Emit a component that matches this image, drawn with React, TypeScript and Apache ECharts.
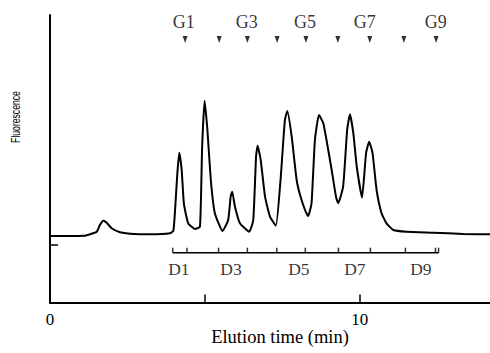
import React, { useEffect, useRef } from "react";
import * as echarts from "echarts";

// Chromatogram trace (elution time in min, fluorescence in arbitrary units)
const timeMin = [
  0, 1.13, 1.29, 1.51, 1.61, 1.72, 1.83, 1.99, 2.26, 2.58, 3.23, 3.87, 3.98, 4.03, 4.11, 4.17, 4.25, 4.32, 4.46,
  4.68, 4.84, 4.91, 4.99, 5.08, 5.19, 5.32, 5.57, 5.75, 5.83, 5.88, 5.97, 6.13, 6.43, 6.56, 6.65, 6.7, 6.8, 6.94,
  7.1, 7.29, 7.44, 7.58, 7.66, 7.8, 7.96, 8.07, 8.23, 8.33, 8.44, 8.55, 8.68, 8.82, 8.98, 9.09, 9.23, 9.3, 9.46,
  9.59, 9.68, 9.79, 9.9, 10.07, 10.2, 10.3, 10.41, 10.54, 10.7, 10.86, 11.08, 11.51, 12.37, 13.34, 14.2,
];
const fluorescence = [
  66.5, 66.8, 68.2, 70.8, 77.5, 81.8, 79.8, 74.2, 70.2, 68.8, 68.2, 69.2, 71.8, 89.5, 129.2, 149.8, 132.5, 99.2, 79.2,
  73.5, 75.8, 155.8, 201.8, 172.5, 122.5, 89.2, 71.5, 82.5, 105.8, 110.8, 95.8, 79.2, 70.8, 82.5, 145.8, 156.8, 142.5, 105.8,
  85.8, 76.8, 122.5, 182.5, 191.5, 165.8, 122.5, 107.5, 92.5, 86.5, 99.2, 162.5, 187.5, 179.2, 152.5, 132.5, 105.8, 99.2, 115.8,
  172.5, 188.2, 169.2, 135.8, 104.8, 149.2, 160.8, 149.2, 112.5, 89.2, 79.2, 72.5, 70.8, 69.8, 68.5, 68.2,
];

// G standards (arrows on top)
const gArrowTimes = [4.36, 5.46, 6.37, 7.33, 8.26, 9.29, 10.32, 11.42, 12.46];
const gLabels = ["G1", "G3", "G5", "G7", "G9"];
const gLabelTimes = [4.32, 6.35, 8.23, 10.16, 12.45];
const gArrowLevel = 263;
const gLabelLevel = 280.5;

// D scale (below the trace)
const dTickTimes = [3.96, 4.42, 5.44, 6.37, 7.32, 8.24, 9.31, 10.34, 11.47, 12.44, 12.54];
const dLabels = ["D1", "D3", "D5", "D7", "D9"];
const dLabelTimes = [4.16, 5.84, 8.03, 9.84, 11.97];
const dLineLevel = 49.8;
const dLabelLevel = 33.5;

// Axis ticks / labels
const xTickValues = [5, 10];
const xLabelValues = [0, 10];
const yTickValues = [57.5];

const SERIF = "'Liberation Serif', 'Times New Roman', serif";

export default function App() {
  const ref = useRef<HTMLDivElement>(null);
  useEffect(() => {
    if (!ref.current) return;
    const chart = echarts.init(ref.current, null, { renderer: "svg" });
    const trace = timeMin.map((t, i) => [t, fluorescence[i]]);
    chart.setOption({
      animation: false,
      backgroundColor: "#fff",
      grid: { left: 50, right: 0, top: 15, bottom: 50.5 },
      xAxis: {
        type: "value",
        min: 0,
        max: 14.2,
        splitLine: { show: false },
        axisLine: { lineStyle: { color: "#000", width: 2 } },
        axisTick: { show: true, inside: true, length: 8, customValues: xTickValues, lineStyle: { color: "#000", width: 1.5 } },
        axisLabel: { customValues: xLabelValues, margin: 8, color: "#000", fontSize: 17, fontFamily: SERIF },
      },
      yAxis: {
        type: "value",
        min: 0,
        max: 287.5,
        splitLine: { show: false },
        axisLine: { show: true, lineStyle: { color: "#000", width: 2 } },
        axisTick: { show: true, inside: true, length: 8, customValues: yTickValues, lineStyle: { color: "#000", width: 1.5 } },
        axisLabel: { show: false },
      },
      graphic: [
        {
          type: "text",
          x: 16,
          y: 117,
          rotation: Math.PI / 2,
          scaleX: 0.72,
          style: { text: "Fluorescence", fontSize: 12, fontFamily: "'Liberation Sans', Arial, sans-serif", fill: "#000", align: "center", verticalAlign: "middle" },
        },
        {
          type: "text",
          x: 280,
          y: 337,
          style: { text: "Elution time (min)", fontSize: 18.5, fontFamily: SERIF, fill: "#000", align: "center", verticalAlign: "middle" },
        },
      ],
      series: [
        {
          type: "line",
          data: trace,
          smooth: 0.15,
          showSymbol: false,
          lineStyle: { color: "#000", width: 2 },
          z: 3,
        },
        {
          type: "line",
          data: [[dTickTimes[0], dLineLevel], [dTickTimes[dTickTimes.length - 1], dLineLevel]],
          showSymbol: false,
          lineStyle: { color: "#000", width: 1.5 },
        },
        {
          type: "scatter",
          data: dTickTimes.map((t) => [t, dLineLevel]),
          symbol: "rect",
          symbolSize: [1.5, 5],
          symbolOffset: [0, -2.5],
          itemStyle: { color: "#000" },
        },
        {
          type: "scatter",
          data: dLabelTimes.map((t, i) => ({ value: [t, dLabelLevel], name: dLabels[i] })),
          symbolSize: 0,
          label: { show: true, position: "inside", formatter: "{b}", color: "#000", fontSize: 17.5, fontFamily: SERIF },
        },
        {
          type: "scatter",
          data: gArrowTimes.map((t) => [t, gArrowLevel]),
          symbol: "triangle",
          symbolRotate: 180,
          symbolSize: [5, 7],
          itemStyle: { color: "#000" },
        },
        {
          type: "scatter",
          data: gLabelTimes.map((t, i) => ({ value: [t, gLabelLevel], name: gLabels[i] })),
          symbolSize: 0,
          label: { show: true, position: "inside", formatter: "{b}", color: "#000", fontSize: 18, fontFamily: SERIF },
        },
      ],
    });
    return () => chart.dispose();
  }, []);
  return <div ref={ref} style={{ position: "fixed", left: 0, top: 0, width: 490, height: 353 }} />;
}
